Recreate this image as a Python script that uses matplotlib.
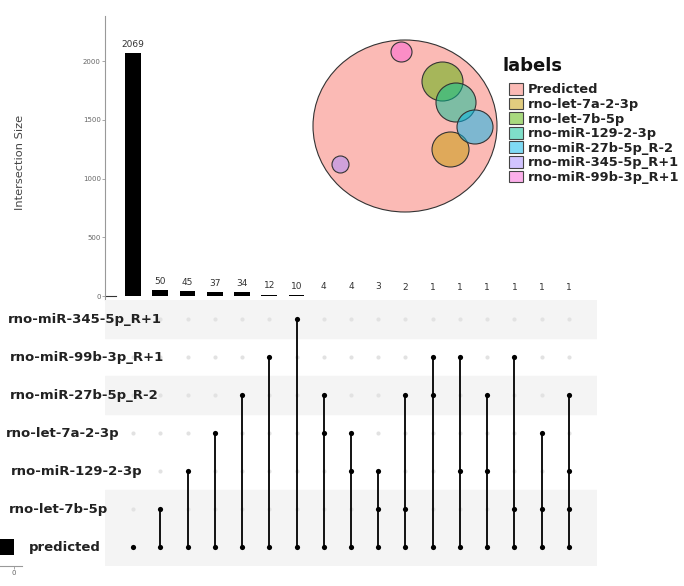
import numpy as np
import matplotlib
matplotlib.use("Agg")
import matplotlib.pyplot as plt
from matplotlib.colors import to_rgba
from matplotlib.patches import Ellipse, Patch
from matplotlib.transforms import blended_transform_factory

# ---------------------------------------------------------------- data
sets = ["rno-miR-345-5p_R+1", "rno-miR-99b-3p_R+1", "rno-miR-27b-5p_R-2",
        "rno-let-7a-2-3p", "rno-miR-129-2-3p", "rno-let-7b-5p", "predicted"]

counts = [2069, 50, 45, 37, 34, 12, 10, 4, 4, 3, 2, 1, 1, 1, 1, 1, 1]

members = [
    ["predicted"],
    ["predicted", "rno-let-7b-5p"],
    ["predicted", "rno-miR-129-2-3p"],
    ["predicted", "rno-let-7a-2-3p"],
    ["predicted", "rno-miR-27b-5p_R-2"],
    ["predicted", "rno-miR-99b-3p_R+1"],
    ["predicted", "rno-miR-345-5p_R+1"],
    ["predicted", "rno-let-7a-2-3p", "rno-miR-27b-5p_R-2"],
    ["predicted", "rno-let-7a-2-3p", "rno-miR-129-2-3p"],
    ["predicted", "rno-miR-129-2-3p", "rno-let-7b-5p"],
    ["predicted", "rno-let-7b-5p", "rno-miR-27b-5p_R-2"],
    ["predicted", "rno-miR-99b-3p_R+1", "rno-miR-27b-5p_R-2"],
    ["predicted", "rno-miR-99b-3p_R+1", "rno-miR-129-2-3p"],
    ["predicted", "rno-miR-27b-5p_R-2", "rno-miR-129-2-3p"],
    ["predicted", "rno-miR-99b-3p_R+1", "rno-let-7b-5p"],
    ["predicted", "rno-let-7a-2-3p", "rno-let-7b-5p"],
    ["predicted", "rno-miR-27b-5p_R-2", "rno-miR-129-2-3p", "rno-let-7b-5p"],
]

legend_labels = ["Predicted", "rno-let-7a-2-3p", "rno-let-7b-5p", "rno-miR-129-2-3p",
                 "rno-miR-27b-5p_R-2", "rno-miR-345-5p_R+1", "rno-miR-99b-3p_R+1"]
legend_colors = ["#F8766D", "#C49A00", "#53B400", "#00C094",
                 "#00B6EB", "#A58AFF", "#FB61D7"]

# euler diagram geometry (offset from big circle centre, radii x/y), same order as legend
euler_layout = [
    (0, 0, 92, 86),
    (45.5, 23.5, 18.5, 17.5),
    (37.5, -44.5, 20.5, 19.5),
    (51, -23.5, 20, 19.5),
    (70, 1, 18, 17),
    (-64.5, 38.5, 8.5, 8.5),
    (-3.5, -74, 10.5, 10),
]

# ---------------------------------------------------------------- layout helpers
W, H = 684, 586
fig = plt.figure(figsize=(W / 100, H / 100), dpi=100)


def px(x0, y0, x1, y1):
    return [x0 / W, 1 - y1 / H, (x1 - x0) / W, (y1 - y0) / H]


n_cols = len(counts)
xlim = (-1.03, n_cols - 1 + 1.03)
row_of = {s: i for i, s in enumerate(sets)}
set_sizes = [sum(c for c, m in zip(counts, members) if s in m) for s in sets]

# ---------------------------------------------------------------- intersection bars
ax_bar = fig.add_axes(px(105, 16, 597, 300))
bars = ax_bar.bar(np.arange(n_cols), counts, width=0.58, color="black")
ax_bar.bar_label(bars, padding=3, fontsize=6.5, color="#333333")
ax_bar.set_xlim(*xlim)
ax_bar.set_ylim(-34, 2386)
ax_bar.set_xticks([])
ax_bar.set_yticks([0, 500, 1000, 1500, 2000])
ax_bar.tick_params(axis="y", labelsize=5, labelcolor="#666666", length=2,
                   width=0.6, color="#999999", pad=1)
for side in ["top", "right", "bottom"]:
    ax_bar.spines[side].set_visible(False)
ax_bar.spines["left"].set_color("#999999")
ax_bar.axhline(0, xmin=0, xmax=0.022, color="#333333", lw=0.8)
ax_bar.set_ylabel("Intersection Size", fontsize=8.2, color="#444444")
ax_bar.yaxis.set_label_coords(-0.163, 0.486)

# ---------------------------------------------------------------- matrix
ax_mat = fig.add_axes(px(105, 300, 597, 566))
ax_mat.set_xlim(*xlim)
ax_mat.set_ylim(len(sets) - 0.5, -0.5)
ax_mat.axis("off")
for r in [0, 2, 5, 6]:
    ax_mat.axhspan(r - 0.49, r + 0.49, color="#F4F4F4", zorder=0)

gx, gy = np.meshgrid(np.arange(n_cols), np.arange(len(sets)))
ax_mat.scatter(gx.ravel(), gy.ravel(), s=9, color="#E2E2E2", zorder=1, linewidths=0)
for i, m in enumerate(members):
    rows = [row_of[s] for s in m]
    ax_mat.vlines(i, min(rows), max(rows), color="black", lw=1.3, zorder=2)
    ax_mat.scatter([i] * len(rows), rows, s=14, color="black", zorder=3, linewidths=0)

trans = blended_transform_factory(fig.transFigure, ax_mat.transData)
label_x = [8, 10, 10, 6, 11, 9, 29]
for i, s in enumerate(sets):
    ax_mat.text(label_x[i] / W, i, s, transform=trans, fontsize=9.5,
                fontweight="bold", color="#222222", va="center", ha="left", zorder=5)

# ---------------------------------------------------------------- set size
ax_set = fig.add_axes(px(0, 300, 22, 566))
ax_set.barh(np.arange(len(sets)), set_sizes, height=0.42, color="black",
            antialiased=False)
ax_set.set_ylim(len(sets) - 0.5, -0.5)
ax_set.set_xlim(1991, -1138)
ax_set.set_xticks([0])
ax_set.set_yticks([])
ax_set.tick_params(axis="x", labelsize=5, labelcolor="#666666", length=2,
                   width=0.6, color="#999999", pad=1)
for side in ["top", "right", "left"]:
    ax_set.spines[side].set_visible(False)
ax_set.spines["bottom"].set_color("#999999")
ax_set.patch.set_alpha(0)

# ---------------------------------------------------------------- euler diagram
ax_ven = fig.add_axes(px(310, 36, 500, 216))
ax_ven.set_xlim(-95, 95)
ax_ven.set_ylim(90, -90)
ax_ven.axis("off")
for (dx, dy, rx, ry), c in zip(euler_layout, legend_colors):
    ax_ven.add_patch(Ellipse((dx, dy), 2 * rx, 2 * ry, facecolor=to_rgba(c, 0.5),
                             edgecolor="#333333", lw=0.8))

handles = [Patch(facecolor=to_rgba(c, 0.5), edgecolor="#444444", lw=0.8)
           for c in legend_colors]
leg = fig.legend(handles, legend_labels, loc="upper left",
                 bbox_to_anchor=(509 / W, 1 - 83 / H), frameon=False,
                 borderpad=0, borderaxespad=0, handlelength=1.05,
                 handleheight=1.0, handletextpad=0.4, labelspacing=0.1,
                 prop={"size": 9.4, "weight": "bold"})
for t in leg.get_texts():
    t.set_color("#222222")
fig.text(502 / W, 1 - 66 / H, "labels", fontsize=13, fontweight="bold",
         color="#111111", ha="left", va="center")

fig.savefig("out.png", dpi=100)
